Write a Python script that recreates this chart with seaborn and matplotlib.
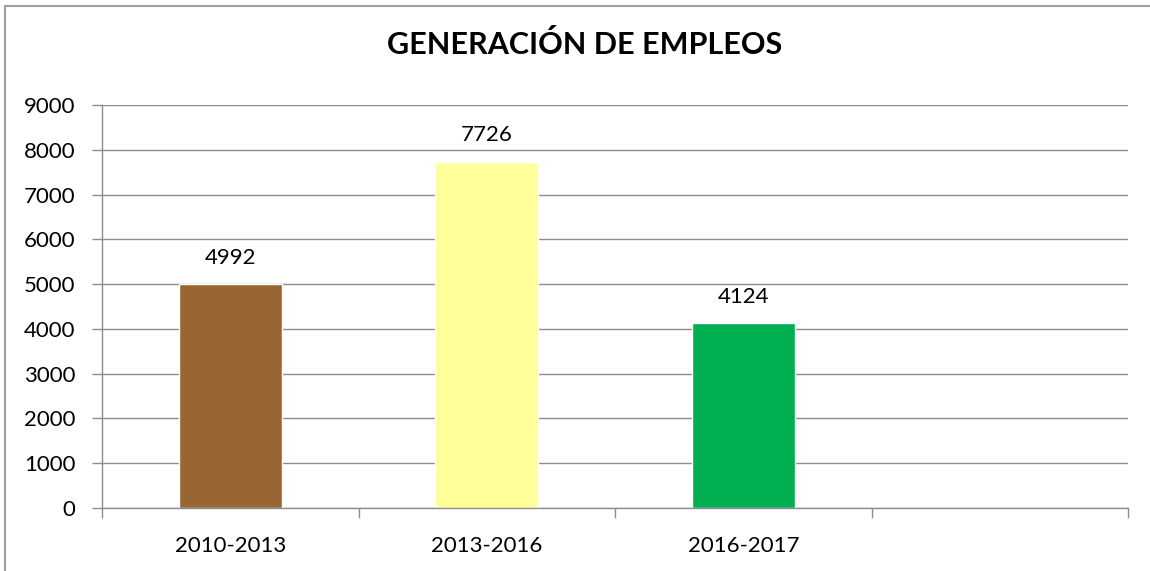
import seaborn as sns
import matplotlib.pyplot as plt
import pandas as pd
from matplotlib.patches import Rectangle

# Datos del gráfico
periodos = ['2010-2013', '2013-2016', '2016-2017']
empleos = [4992, 7726, 4124]
colores = ['#996633', '#FFFF99', '#00B050']
y_ticks = list(range(0, 10000, 1000))

sns.set_theme(style="white")
plt.rcParams['font.family'] = ['Lato', 'DejaVu Sans']
plt.rcParams['text.color'] = 'black'
plt.rcParams['xtick.labelcolor'] = 'black'
plt.rcParams['ytick.labelcolor'] = 'black'

df = pd.DataFrame({'periodo': periodos, 'empleos': empleos})

fig = plt.figure(figsize=(11.5, 5.71), dpi=100)
ax = fig.add_axes([0.0887, 0.1103, 0.8922, 0.7058])

sns.barplot(data=df, x='periodo', y='empleos', hue='periodo',
            palette=colores, width=0.4, saturation=1, legend=False, ax=ax)

grid_col = '#8C8C8C'
ax.set_xlim(-0.5, 3.5)
ax.set_ylim(0, 9000)
ax.set_yticks(y_ticks)
ax.set_yticklabels([str(v) for v in y_ticks])
ax.yaxis.grid(True, color=grid_col, linewidth=1)
ax.set_axisbelow(True)

# ticks del eje x en los límites de categoría
ax.set_xticks(range(len(periodos)))
ax.set_xticklabels(periodos)
ax.set_xticks([-0.5, 0.5, 1.5, 2.5, 3.5], minor=True)
ax.tick_params(axis='x', which='major', length=0, pad=20, labelsize=16,
               labelcolor='black')
ax.tick_params(axis='x', which='minor', length=7, width=1, color=grid_col,
               bottom=True)
ax.tick_params(axis='y', length=7, width=1, color=grid_col, pad=12,
               labelsize=16, left=True, labelcolor='black')

for s in ['top', 'right']:
    ax.spines[s].set_visible(False)
for s in ['left', 'bottom']:
    ax.spines[s].set_color(grid_col)
    ax.spines[s].set_linewidth(1)

ax.set_xlabel('')
ax.set_ylabel('')

for cont in ax.containers:
    ax.bar_label(cont, fmt='%d', padding=12, fontsize=16, color='black')

fig.text(0.508, 0.922, 'GENERACIÓN DE EMPLEOS', ha='center', va='center',
         fontsize=22, fontweight='bold', color='black')

# borde del área del gráfico
fig.patches.append(Rectangle((5 / 1150, -0.1), 1.2, 1.1 - 6 / 571,
                             transform=fig.transFigure, fill=False,
                             edgecolor='#A0A0A0', linewidth=1.5))

fig.savefig('out.png', dpi=100)
